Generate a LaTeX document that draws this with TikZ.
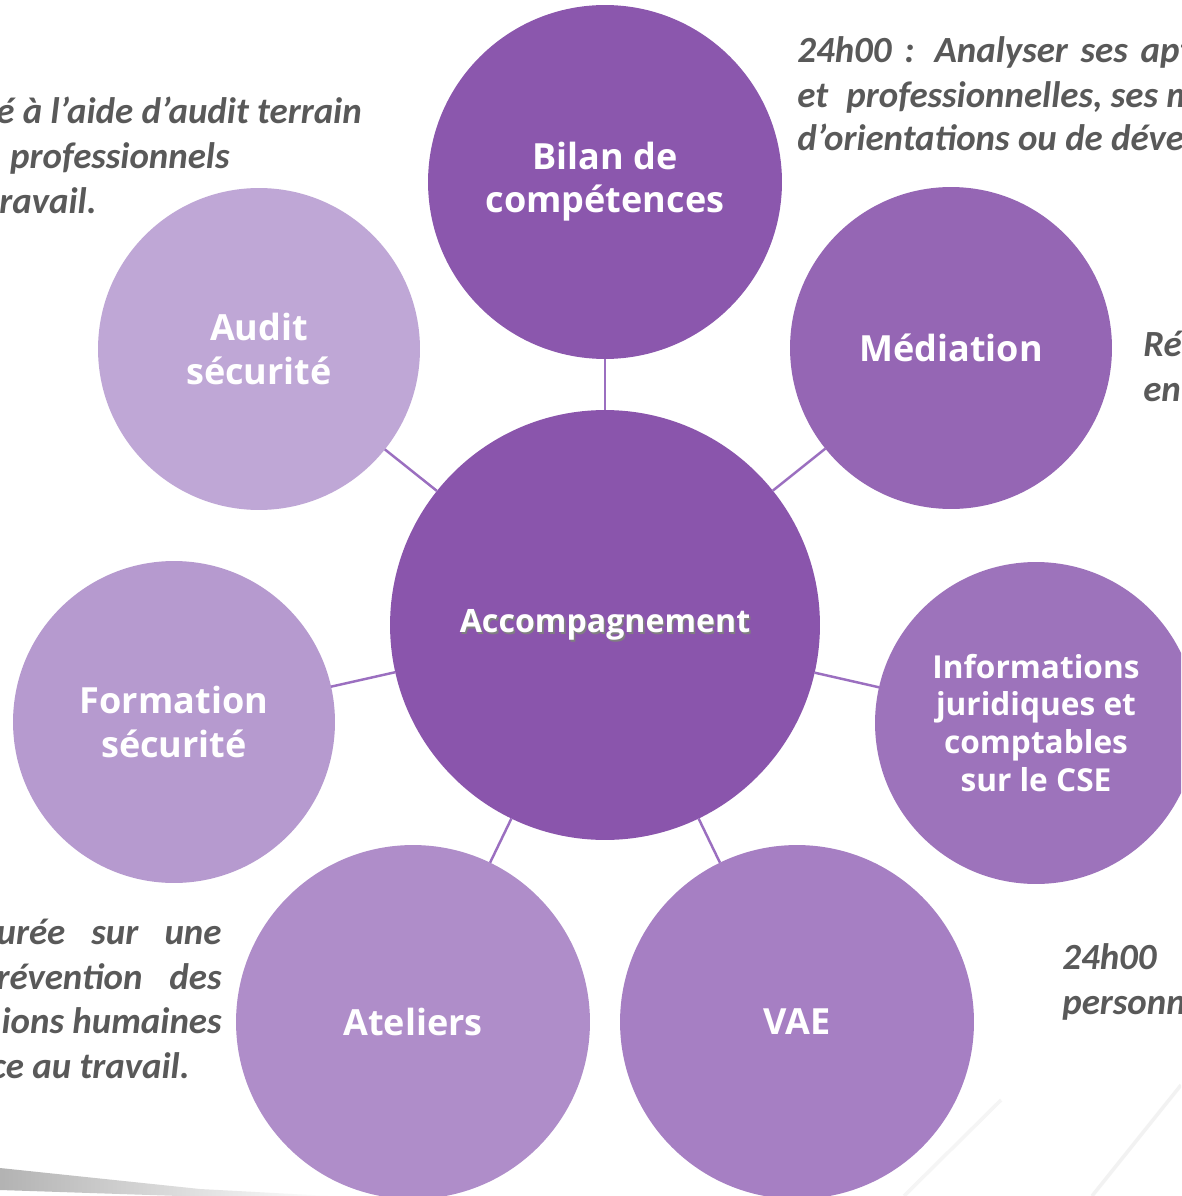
\documentclass[tikz,border=0pt]{standalone}
\usepackage{fontspec}
\setmainfont{Open Sans}
\newfontfamily\notefont{Carlito}
\usepackage{tikz}

\definecolor{hubc}{HTML}{8A55AC}
\definecolor{bilanc}{HTML}{8B57AD}
\definecolor{mediac}{HTML}{9566B4}
\definecolor{infoc}{HTML}{9D73BB}
\definecolor{vaec}{HTML}{A67FC3}
\definecolor{atelc}{HTML}{AF8DC9}
\definecolor{formc}{HTML}{B69ACF}
\definecolor{auditc}{HTML}{BFA7D6}
\definecolor{linkc}{HTML}{9B6FC0}
\definecolor{notec}{HTML}{595959}

\begin{document}
\begin{tikzpicture}[x=0.02cm, y=-0.02cm,
    bubble/.style={circle, draw=none, inner sep=0pt, outer sep=0pt, text=white,
                   align=center, font=\bfseries\fontsize{20.5}{24.5}\selectfont},
    bigbub/.style={bubble, minimum size=7.08cm},
    smallbub/.style={bubble, minimum size=6.44cm},
    hub/.style={bubble, minimum size=8.6cm},
    hubtext/.style={inner sep=0pt, text=white, font=\bfseries\fontsize{18.3}{22}\selectfont},
    link/.style={linkc, line width=1.4pt},
    note/.style={inner sep=0pt, text=notec, font=\notefont\bfseries\itshape\fontsize{21}{25}\selectfont}]
                \useasboundingbox (0,0) rectangle (1181,1196);
                \clip (0,0) rectangle (1181,1196);
                \fill[white] (0,0) rectangle (1181,1196);
                % background streaks
                \shade[left color=black!30, right color=white]
                    (0,1168) -- (200,1189) -- (330,1196) -- (180,1196) -- (0,1190) -- cycle;
                \draw[black!4, line width=2pt] (1001,1100) -- (904,1196);
                \draw[black!5, line width=2pt] (1181,1085) -- (1092,1196);
                % circles
                \node[hub, fill=hubc] (hub) at (605,625) {};
                \node[bigbub, fill=bilanc] (bilan) at (605,182) {Bilan de\\compétences};
                \node[smallbub, fill=mediac] (media) at (951,348) {Médiation};
                \node[smallbub, fill=infoc, font=\bfseries\fontsize{18}{21.6}\selectfont] (info) at (1036,723)
                    {Informations\\juridiques et\\comptables\\sur le CSE};
                \node[bigbub, fill=vaec] (vae) at (797,1022) {VAE};
                \node[bigbub, fill=atelc] (atel) at (413,1022) {Ateliers};
                \node[smallbub, fill=formc] (form) at (174,722) {Formation\\sécurité};
                \node[smallbub, fill=auditc] (audit) at (259,349) {Audit\\sécurité};
                \node[hubtext, text=black!50] (hubshadow) at ([shift={(1.6,1.6)}]hub.center) {Accompagnement};
                \node[hubtext] (hubtxt) at (hub.center) {Accompagnement};
                % links
                \foreach \n in {bilan, media, info, vae, atel, form, audit}
                    \draw[link] (hub) -- (\n);
                % notes
                \node[note, anchor=base east] (n1a) at (362,124) {é à l’aide d’audit terrain};
                \node[note, anchor=base east] (n1b) at (230,169) {professionnels};
                \node[note, anchor=base east] (n1c) at (97,214) {ravail.};
                \node[note, anchor=base west] (n2a) at (797,63) {\makebox[7.9cm][s]{24h00 : Analyser ses apt}};
                \node[note, anchor=base west] (n2b) at (797,108) {et\hspace{0.2cm} professionnelles, ses m};
                \node[note, anchor=base west] (n2c) at (797,151) {d’orientations ou de déve};
                \node[note, anchor=base west] (n3a) at (1143,356) {Ré};
                \node[note, anchor=base west] (n3b) at (1143,401) {en};
                \node[note, anchor=base east] (n4a) at (222,944) {\makebox[4.5cm][s]{urée sur une}};
                \node[note, anchor=base east] (n4b) at (222,989) {\makebox[4.5cm][s]{révention des}};
                \node[note, anchor=base east] (n4c) at (222,1033) {ions humaines};
                \node[note, anchor=base east] (n4d) at (190,1078) {ce au travail.};
                \node[note, anchor=base west] (n5a) at (1062,969) {24h00};
                \node[note, anchor=base west] (n5b) at (1062,1014) {personn};
            \end{tikzpicture}
\end{document}
